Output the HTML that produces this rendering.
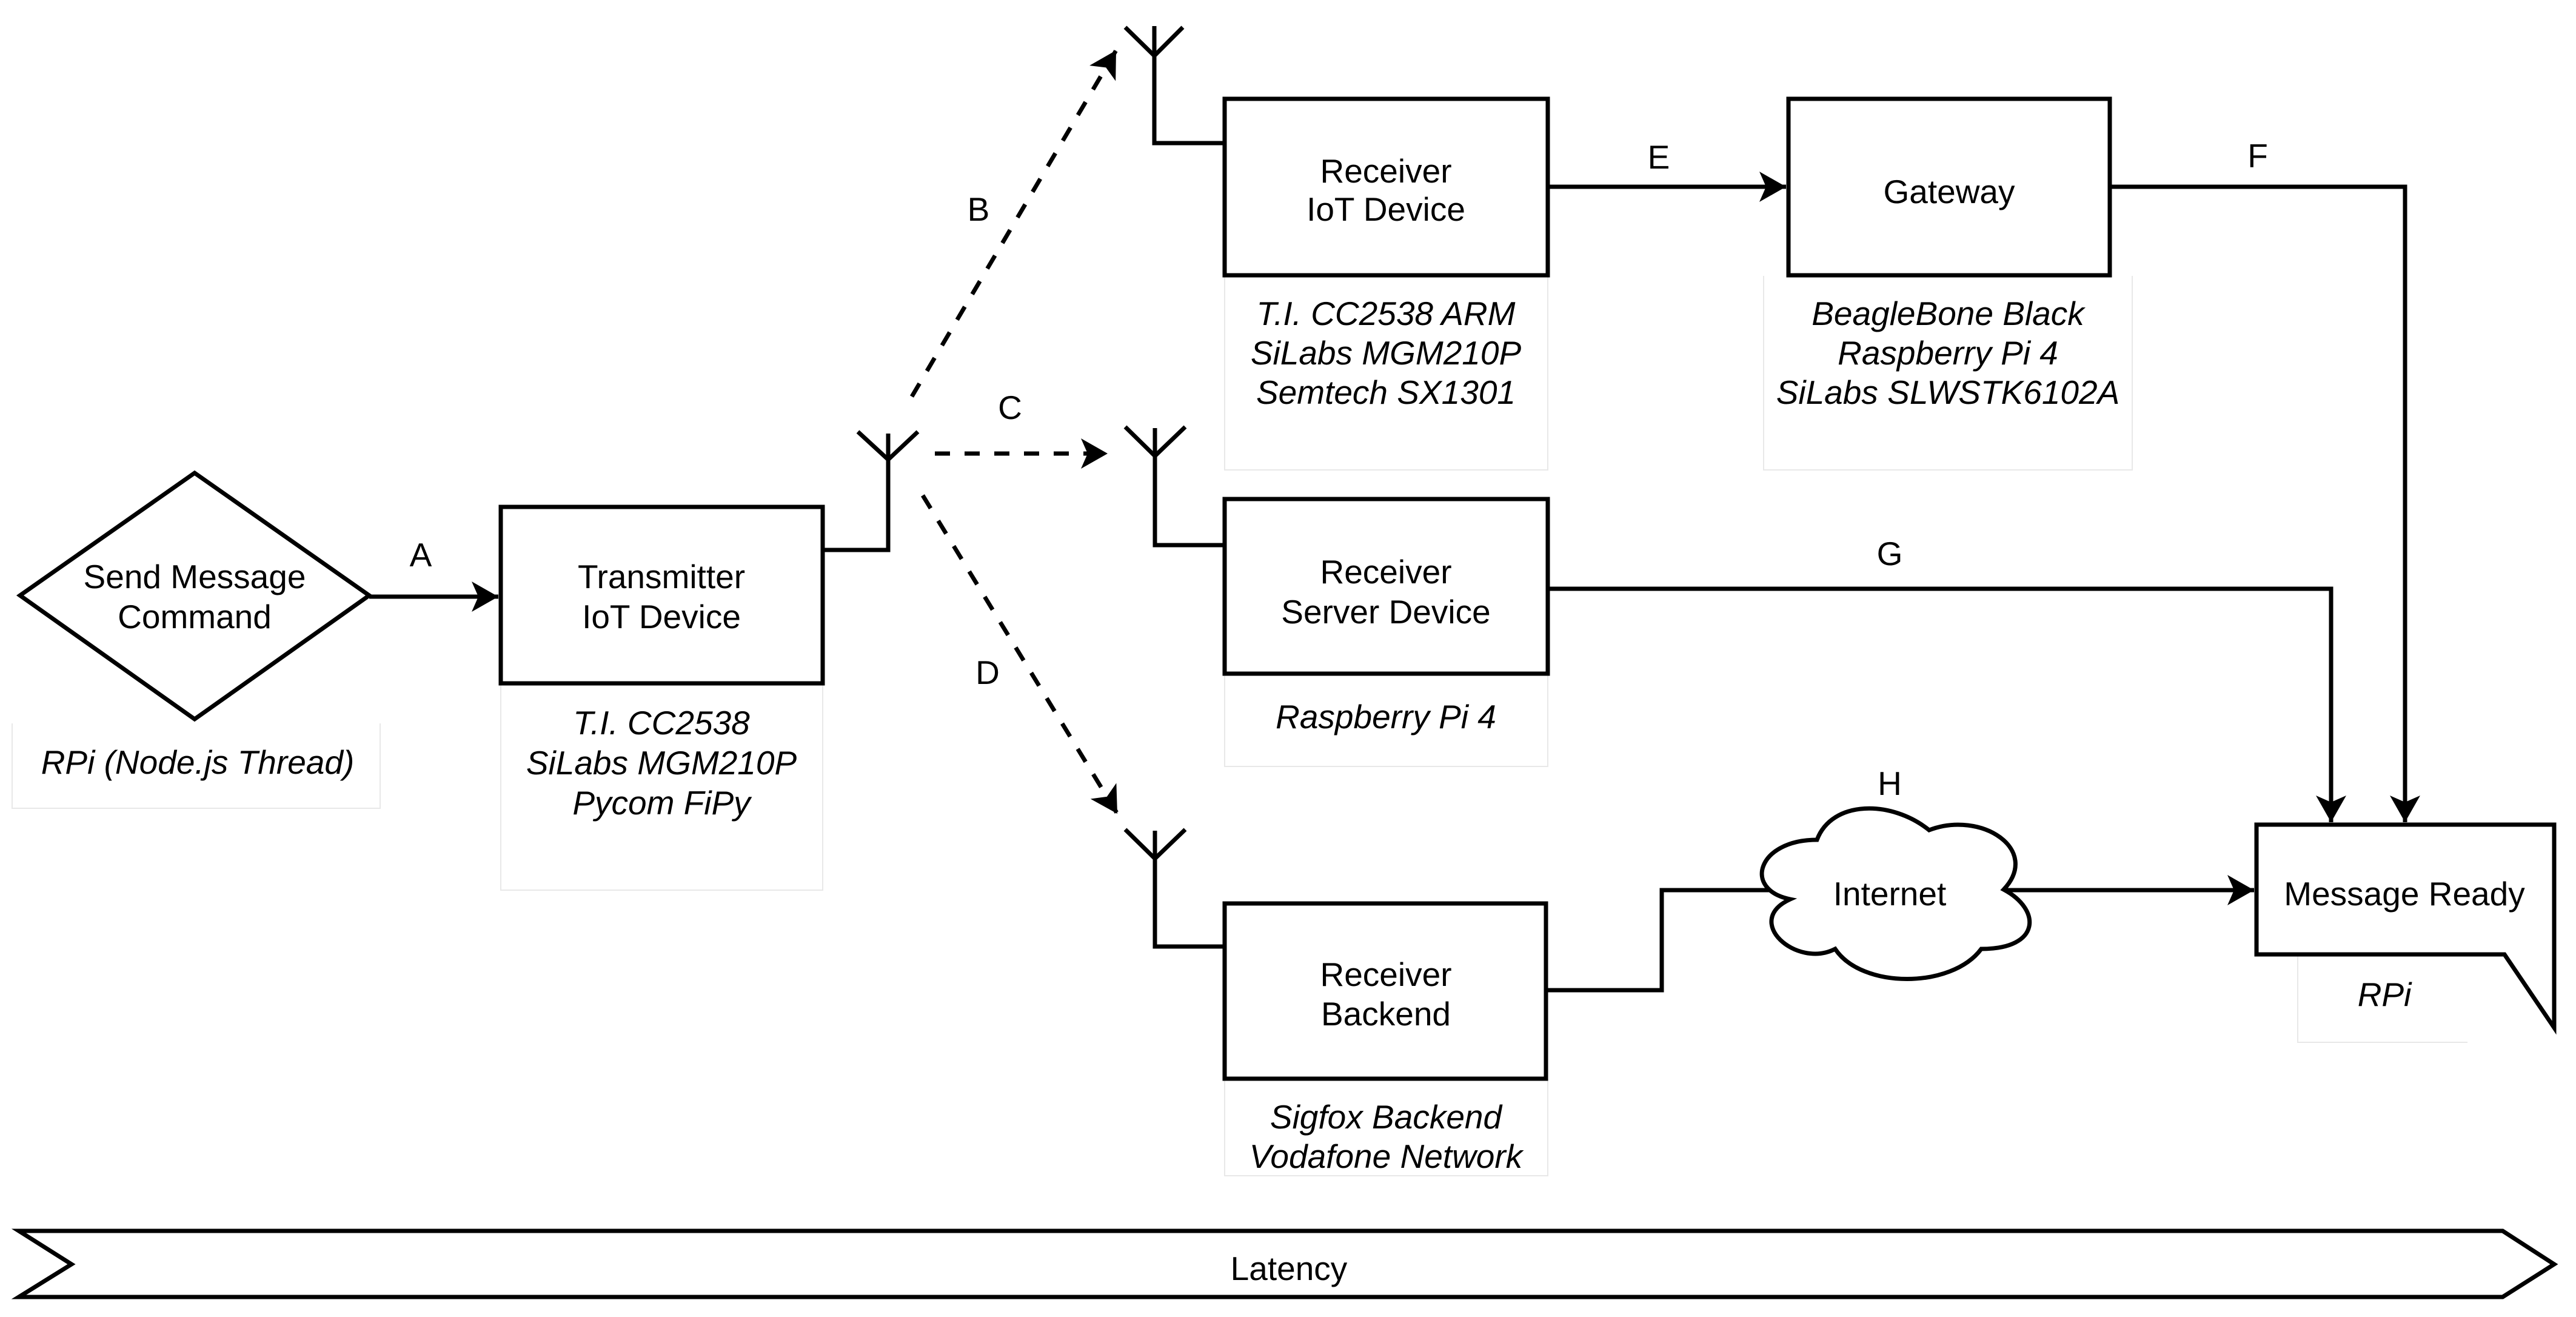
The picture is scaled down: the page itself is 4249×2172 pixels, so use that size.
<!DOCTYPE html>
<html><head><meta charset="utf-8"><style>
html,body{margin:0;padding:0;background:#fff;}
svg{display:block;}
text{font-family:"Liberation Sans",Arial,sans-serif;font-size:55px;fill:#000;}
.i{font-style:italic;}
</style></head><body>
<svg width="4249" height="2172" viewBox="0 0 4249 2172" xmlns="http://www.w3.org/2000/svg">
<defs>
<marker id="ah" markerUnits="userSpaceOnUse" markerWidth="60" markerHeight="60" refX="44" refY="25" orient="auto">
<path d="M0,0 L44,25 L0,50 L11,25 Z" fill="#000"/>
</marker>
</defs>
<g fill="none" stroke="#e8e8e8" stroke-width="2">
<path d="M20,1193 V1333 H627 V1193"/>
<path d="M826,1128 V1468 H1357 V1128"/>
<path d="M2020,455 V775 H2553 V455"/>
<path d="M2909,455 V775 H3517 V455"/>
<path d="M2020,1111 V1264 H2553 V1111"/>
<path d="M2020,1780 V1939 H2553 V1780"/>
<path d="M3790,1575 V1719 H4070"/>
</g>
<g fill="none" stroke="#000" stroke-width="7">
<path d="M2550,1633 H2741 V1468 H2940"/>
<path d="M3290,1468 H3718" marker-end="url(#ah)"/>
</g>
<g fill="#fff" stroke="#000" stroke-width="7">
<polygon points="33,982 321,780 609,982 321,1186"/>
<rect x="826" y="836" width="531" height="291"/>
<rect x="2020" y="163" width="533" height="291"/>
<rect x="2950" y="163" width="530" height="291"/>
<rect x="2020" y="823" width="533" height="288"/>
<rect x="2020" y="1490" width="530" height="289"/>
<path d="M3722,1360 H4213 V1695 L4131,1574 H3722 Z"/>
<path d="M31,2030 H4128 L4213,2085 L4128,2139 H31 L118,2085 Z"/>
<path d="M2997,1385 C2899,1385 2874,1467 2953,1483 C2874,1519 2963,1598 3027,1565 C3071,1631 3219,1631 3268,1565 C3367,1565 3367,1500 3305,1467 C3367,1401 3268,1336 3182,1369 C3120,1319 3022,1319 2997,1385 Z"/>
</g>
<g fill="none" stroke="#000" stroke-width="7">
<path d="M1357,907 H1465 V715 M1415,712 L1465,758 L1514,712"/>
<path d="M1904,43 V92 M1856,45 L1904,92 L1951,45 M1904,92 V236 H2020"/>
<path d="M1905,706 V752 M1856,704 L1905,752 L1955,704 M1905,752 V899 H2020"/>
<path d="M1905,1370 V1416 M1856,1368 L1905,1416 L1955,1368 M1905,1416 V1561 H2020"/>
<path d="M609,984 H822" marker-end="url(#ah)"/>
<path d="M2553,308 H2946" marker-end="url(#ah)"/>
<path d="M3480,308 H3967 V1356" marker-end="url(#ah)"/>
<path d="M2553,971 H3845 V1356" marker-end="url(#ah)"/>
</g>
<g fill="none" stroke="#000" stroke-width="7" stroke-dasharray="25,24">
<path d="M1504,654 L1841,83" marker-end="url(#ah)"/>
<path d="M1542,748 H1827" marker-end="url(#ah)"/>
<path d="M1522,817 L1843,1342" marker-end="url(#ah)"/>
</g>
<g text-anchor="middle">
<text x="321" y="970">Send Message</text>
<text x="321" y="1036">Command</text>
<text x="1091" y="970">Transmitter</text>
<text x="1091" y="1036">IoT Device</text>
<text x="2286" y="301">Receiver</text>
<text x="2286" y="364">IoT Device</text>
<text x="3215" y="335">Gateway</text>
<text x="2286" y="962">Receiver</text>
<text x="2286" y="1028">Server Device</text>
<text x="2286" y="1626">Receiver</text>
<text x="2286" y="1691">Backend</text>
<text x="3117" y="1493">Internet</text>
<text x="3966" y="1493">Message Ready</text>
<text x="2126" y="2111">Latency</text>
<text x="694" y="934">A</text>
<text x="1614" y="364">B</text>
<text x="1666" y="691">C</text>
<text x="1629" y="1128">D</text>
<text x="2736" y="278">E</text>
<text x="3724" y="276">F</text>
<text x="3117" y="932">G</text>
<text x="3117" y="1311">H</text>
<text class="i" x="326" y="1276">RPi (Node.js Thread)</text>
<text class="i" x="1091" y="1211">T.I. CC2538</text>
<text class="i" x="1091" y="1277">SiLabs MGM210P</text>
<text class="i" x="1091" y="1343">Pycom FiPy</text>
<text class="i" x="2286" y="536">T.I. CC2538 ARM</text>
<text class="i" x="2286" y="601">SiLabs MGM210P</text>
<text class="i" x="2286" y="666">Semtech SX1301</text>
<text class="i" x="3213" y="536">BeagleBone Black</text>
<text class="i" x="3213" y="601">Raspberry Pi 4</text>
<text class="i" x="3213" y="666">SiLabs SLWSTK6102A</text>
<text class="i" x="2286" y="1201">Raspberry Pi 4</text>
<text class="i" x="2286" y="1861">Sigfox Backend</text>
<text class="i" x="2286" y="1926">Vodafone Network</text>
<text class="i" x="3933" y="1659">RPi</text>
</g>
</svg>
</body></html>
